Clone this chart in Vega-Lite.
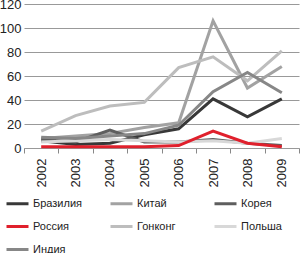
{
  "$schema": "https://vega.github.io/schema/vega-lite/v6.json",
  "width": 275,
  "height": 144,
  "autosize": {"type": "none"},
  "padding": {"left": 24, "top": 4, "right": 1, "bottom": 105},
  "background": "white",
  "config": {
    "view": {"stroke": null},
    "font": "Liberation Sans"
  },
  "data": {
    "values": [
      {"year": "2002", "country": "Бразилия", "v": 6},
      {"year": "2003", "country": "Бразилия", "v": 3},
      {"year": "2004", "country": "Бразилия", "v": 4},
      {"year": "2005", "country": "Бразилия", "v": 11},
      {"year": "2006", "country": "Бразилия", "v": 16},
      {"year": "2007", "country": "Бразилия", "v": 41},
      {"year": "2008", "country": "Бразилия", "v": 26},
      {"year": "2009", "country": "Бразилия", "v": 41},
      {"year": "2002", "country": "Китай", "v": 8},
      {"year": "2003", "country": "Китай", "v": 10},
      {"year": "2004", "country": "Китай", "v": 12},
      {"year": "2005", "country": "Китай", "v": 17},
      {"year": "2006", "country": "Китай", "v": 21},
      {"year": "2007", "country": "Китай", "v": 106},
      {"year": "2008", "country": "Китай", "v": 50},
      {"year": "2009", "country": "Китай", "v": 68},
      {"year": "2002", "country": "Корея", "v": 7},
      {"year": "2003", "country": "Корея", "v": 5},
      {"year": "2004", "country": "Корея", "v": 15},
      {"year": "2005", "country": "Корея", "v": 5},
      {"year": "2006", "country": "Корея", "v": 5},
      {"year": "2007", "country": "Корея", "v": 7},
      {"year": "2008", "country": "Корея", "v": 4},
      {"year": "2009", "country": "Корея", "v": 2},
      {"year": "2002", "country": "Гонконг", "v": 14},
      {"year": "2003", "country": "Гонконг", "v": 27},
      {"year": "2004", "country": "Гонконг", "v": 35},
      {"year": "2005", "country": "Гонконг", "v": 38},
      {"year": "2006", "country": "Гонконг", "v": 67},
      {"year": "2007", "country": "Гонконг", "v": 76},
      {"year": "2008", "country": "Гонконг", "v": 56},
      {"year": "2009", "country": "Гонконг", "v": 81},
      {"year": "2002", "country": "Польша", "v": 5},
      {"year": "2003", "country": "Польша", "v": 6},
      {"year": "2004", "country": "Польша", "v": 7},
      {"year": "2005", "country": "Польша", "v": 6},
      {"year": "2006", "country": "Польша", "v": 5},
      {"year": "2007", "country": "Польша", "v": 6},
      {"year": "2008", "country": "Польша", "v": 4},
      {"year": "2009", "country": "Польша", "v": 8},
      {"year": "2002", "country": "Индия", "v": 9},
      {"year": "2003", "country": "Индия", "v": 8},
      {"year": "2004", "country": "Индия", "v": 10},
      {"year": "2005", "country": "Индия", "v": 12},
      {"year": "2006", "country": "Индия", "v": 19},
      {"year": "2007", "country": "Индия", "v": 47},
      {"year": "2008", "country": "Индия", "v": 63},
      {"year": "2009", "country": "Индия", "v": 46},
      {"year": "2002", "country": "Россия", "v": 1},
      {"year": "2003", "country": "Россия", "v": 1},
      {"year": "2004", "country": "Россия", "v": 1},
      {"year": "2005", "country": "Россия", "v": 1},
      {"year": "2006", "country": "Россия", "v": 2},
      {"year": "2007", "country": "Россия", "v": 14},
      {"year": "2008", "country": "Россия", "v": 4},
      {"year": "2009", "country": "Россия", "v": 1}
    ]
  },
  "encoding": {
    "x": {
      "field": "year",
      "type": "ordinal",
      "scale": {"type": "band", "paddingInner": 0, "paddingOuter": 0},
      "axis": {
        "title": null,
        "labelAngle": 270,
        "labelFontSize": 13,
        "labelColor": "#222",
        "labelPadding": 5,
        "tickBand": "extent",
        "tickSize": 5,
        "tickColor": "#888",
        "domainColor": "#999",
        "grid": false
      }
    },
    "y": {
      "field": "v",
      "type": "quantitative",
      "scale": {"domain": [0, 120]},
      "axis": {
        "title": null,
        "values": [0, 20, 40, 60, 80, 100, 120],
        "labelFontSize": 13,
        "labelColor": "#222",
        "labelPadding": 3,
        "ticks": false,
        "domain": false,
        "gridColor": "#999",
        "gridWidth": 1,
        "gridOpacity": 1
      }
    },
    "color": {
      "field": "country",
      "type": "nominal",
      "scale": {
        "domain": ["Бразилия", "Китай", "Корея", "Россия", "Гонконг", "Польша", "Индия"],
        "range": ["#383838", "#a2a2a2", "#5e5e5e", "#e0202c", "#bdbdbd", "#d8d8d8", "#878787"]
      },
      "legend": {
        "title": null,
        "orient": "none",
        "legendX": -19,
        "legendY": 187,
        "direction": "horizontal",
        "columns": 3,
        "gridAlign": "all",
        "columnPadding": 21,
        "rowPadding": 4,
        "symbolType": "stroke",
        "symbolSize": 484,
        "symbolStrokeWidth": 3,
        "labelFontSize": 11,
        "labelColor": "#222",
        "labelOffset": 3
      }
    }
  },
  "layer": [
    {
      "transform": [{"filter": "datum.country !== 'Россия'"}],
      "mark": {"type": "line", "strokeWidth": 3}
    },
    {
      "transform": [{"filter": "datum.country === 'Россия'"}],
      "mark": {"type": "line", "strokeWidth": 3}
    }
  ]
}
